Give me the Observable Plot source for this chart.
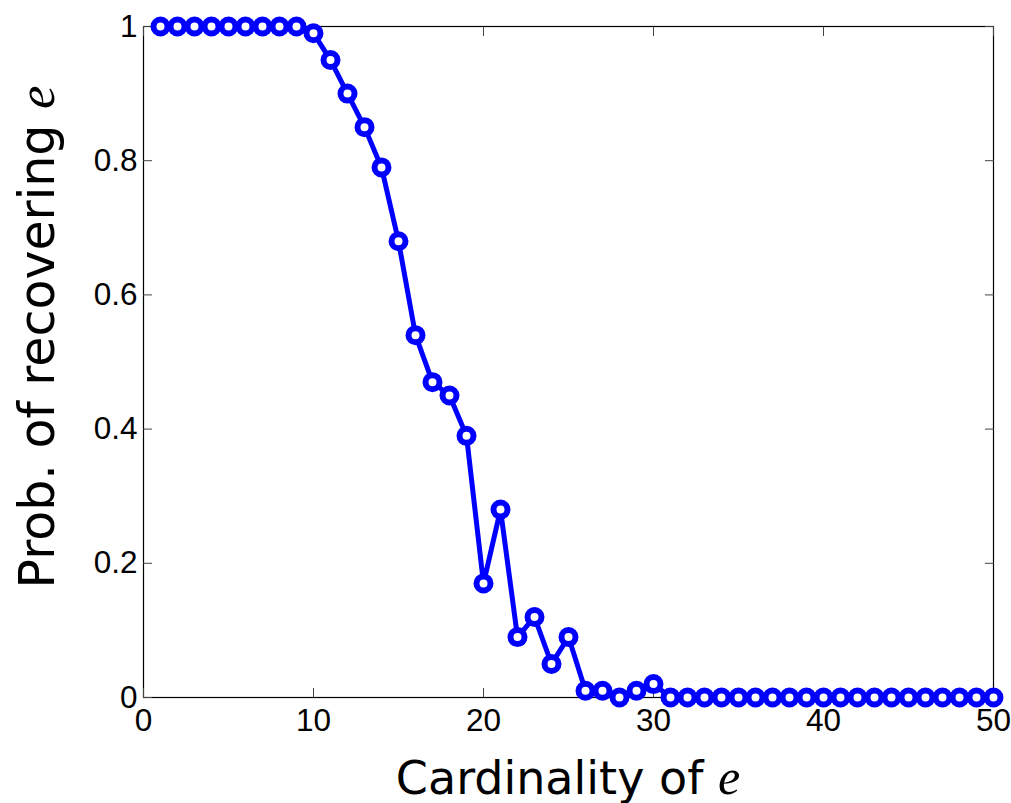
<!DOCTYPE html>
<html>
<head>
<meta charset="utf-8">
<script src="https://cdn.jsdelivr.net/npm/d3@7"></script>
<script src="https://cdn.jsdelivr.net/npm/@observablehq/plot@0.6"></script>
<style>
  html, body { margin: 0; padding: 0; background: #fff; }
  #chart svg { display: block; }
  #chart svg g[aria-label$="tick label"] text { font-size: 31.5px; }
</style>
</head>
<body>
<div id="chart"></div>
<script>
const cardinality = d3.range(1, 51);
const probability = [
  1, 1, 1, 1, 1, 1, 1, 1, 1, 0.99,
  0.95, 0.90, 0.85, 0.79, 0.68, 0.54, 0.47, 0.45, 0.39, 0.17,
  0.28, 0.09, 0.12, 0.05, 0.09, 0.01, 0.01, 0.00, 0.01, 0.02,
  0, 0, 0, 0, 0, 0, 0, 0, 0, 0,
  0, 0, 0, 0, 0, 0, 0, 0, 0, 0
];
const xTicks = [0, 10, 20, 30, 40, 50];
const yTicks = [0, 0.2, 0.4, 0.6, 0.8, 1];

const data = cardinality.map((c, i) => ({c, p: probability[i]}));
const blue = "#0000ff";
const tickFont = "Liberation Sans, Arial, sans-serif";

const plot = Plot.plot({
  width: 1011,
  height: 803,
  marginLeft: 143,
  marginRight: 18,
  marginTop: 26,
  marginBottom: 106,
  style: {fontFamily: tickFont, fontSize: "31.5px", color: "#000", background: "#fff", overflow: "visible"},
  x: {domain: [0, 50]},
  y: {domain: [0, 1]},
  marks: [
    Plot.frame({stroke: "#000", strokeWidth: 1.2}),
    Plot.axisX(xTicks, {anchor: "bottom", tickSize: 0, tickPadding: 11, label: null, tickFormat: d => String(d)}),
    Plot.axisX(xTicks, {anchor: "bottom", tickSize: -9, text: null, label: null, stroke: "#444"}),
    Plot.axisX(xTicks, {anchor: "top", tickSize: -9, text: null, label: null, stroke: "#444"}),
    Plot.axisY(yTicks, {anchor: "left", tickSize: 0, tickPadding: 6, label: null, tickFormat: d => String(d)}),
    Plot.axisY(yTicks, {anchor: "left", tickSize: -9, text: null, label: null, stroke: "#444"}),
    Plot.axisY(yTicks, {anchor: "right", tickSize: -9, text: null, label: null, stroke: "#444"}),
    Plot.line(data, {x: "c", y: "p", stroke: blue, strokeWidth: 5}),
    Plot.dot(data, {x: "c", y: "p", r: 7, stroke: blue, strokeWidth: 6, fill: "#fff"})
  ]
});

const svg = d3.select(plot);
// X axis label
const xl = svg.append("text")
  .attr("x", 143 + (1011 - 143 - 18) / 2)
  .attr("y", 794)
  .attr("text-anchor", "middle")
  .style("font-family", "DejaVu Sans, sans-serif")
  .style("font-size", "46px")
  .attr("fill", "#000");
xl.append("tspan").text("Cardinality of ");
xl.append("tspan").text("e").style("font-family", "Liberation Serif, serif").style("font-style", "italic").style("font-size", "50px");

// Y axis label
const yl = svg.append("text")
  .attr("transform", `translate(54, 337) rotate(-90)`)
  .attr("text-anchor", "middle")
  .style("font-family", "DejaVu Sans, sans-serif")
  .style("font-size", "49px")
  .attr("fill", "#000");
yl.append("tspan").text("Prob. of recovering ");
yl.append("tspan").text("e").style("font-family", "Liberation Serif, serif").style("font-style", "italic").style("font-size", "53px");

document.getElementById("chart").appendChild(plot);
</script>
</body>
</html>
